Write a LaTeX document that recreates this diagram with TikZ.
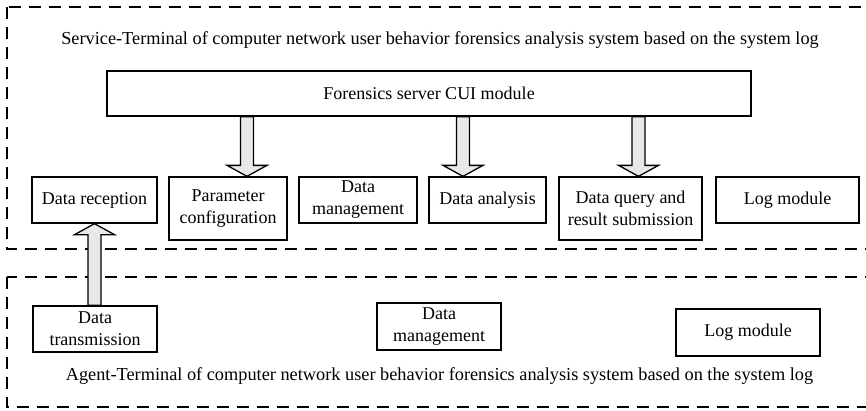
\documentclass[tikz,border=0pt]{standalone}
\usepackage{fontspec}
\setmainfont{Liberation Serif}
\usetikzlibrary{calc}

\tikzset{
  module/.style={draw, line width=1.3pt, inner sep=0pt, align=center,
    font=\fontsize{18}{22}\selectfont},
  region/.style={draw, line width=1.4pt, dash pattern=on 12pt off 8pt},
  caption/.style={inner sep=0pt, font=\fontsize{18.3}{22}\selectfont},
  blockarrow/.style={draw, line width=1.3pt, fill=black!9, line join=miter},
}

% vertical block arrow from #1 to #2 (tip at #2)
\newcommand\blockarrow[2]{%
  \filldraw[blockarrow] let \p1=(#1), \p2=(#2),
    \n1={ifthenelse(\y2>\y1,1,-1)} in
    (\x1-6.5pt,\y1) -- (\x1-6.5pt,\y2-\n1*11pt) -- (\x1-20pt,\y2-\n1*11pt)
    -- (\x2,\y2) -- (\x1+20pt,\y2-\n1*11pt) -- (\x1+6.5pt,\y2-\n1*11pt)
    -- (\x1+6.5pt,\y1) -- cycle;}

\begin{document}
\begin{tikzpicture}[x=1pt, y=-1pt]
\useasboundingbox (0,0) rectangle (866,410);
\clip (0,0) rectangle (866,410);

% terminal regions
\draw[region] (7,7) rectangle (872,249);
\draw[region] (7,277) rectangle (872,407);

\node[caption] (stitle) at (440,40)
  {Service-Terminal of computer network user behavior forensics analysis system based on the system log};
\node[caption] (atitle) at (439.5,376)
  {Agent-Terminal of computer network user behavior forensics analysis system based on the system log};

% service terminal modules
\node[module, minimum width=644pt, minimum height=45pt] (cui) at (429,93.5)
  {Forensics server CUI module};
\node[module, minimum width=125pt, minimum height=46pt] (rec) at (94.5,200) {Data reception};
\node[module, minimum width=118pt, minimum height=63pt] (par) at (228,208.5) {Parameter\\configuration};
\node[module, minimum width=118pt, minimum height=46pt] (man) at (358,200) {Data\\management};
\node[module, minimum width=117pt, minimum height=46pt] (ana) at (487.5,200) {Data analysis};
\node[module, minimum width=143pt, minimum height=63pt] (qry) at (630.5,208.5) {Data query and\\result submission};
\node[module, minimum width=143pt, minimum height=46pt] (log) at (787.5,200) {Log module};

% agent terminal modules
\node[module, minimum width=124pt, minimum height=46pt] (tra) at (95,329) {Data\\transmission};
\node[module, minimum width=124pt, minimum height=47pt] (man2) at (439,326.5) {Data\\management};
\node[module, minimum width=144pt, minimum height=47pt] (log2) at (748,332.5) {Log module};

% arrow positions
\coordinate (a1) at (247,0);
\coordinate (a2) at (463,0);
\coordinate (a3) at (638.5,0);
\coordinate (a4) at (94.5,0);

\blockarrow{cui.south -| a1}{par.north -| a1}
\blockarrow{cui.south -| a2}{ana.north -| a2}
\blockarrow{cui.south -| a3}{qry.north -| a3}
\blockarrow{tra.north -| a4}{rec.south -| a4}
\end{tikzpicture}
\end{document}
